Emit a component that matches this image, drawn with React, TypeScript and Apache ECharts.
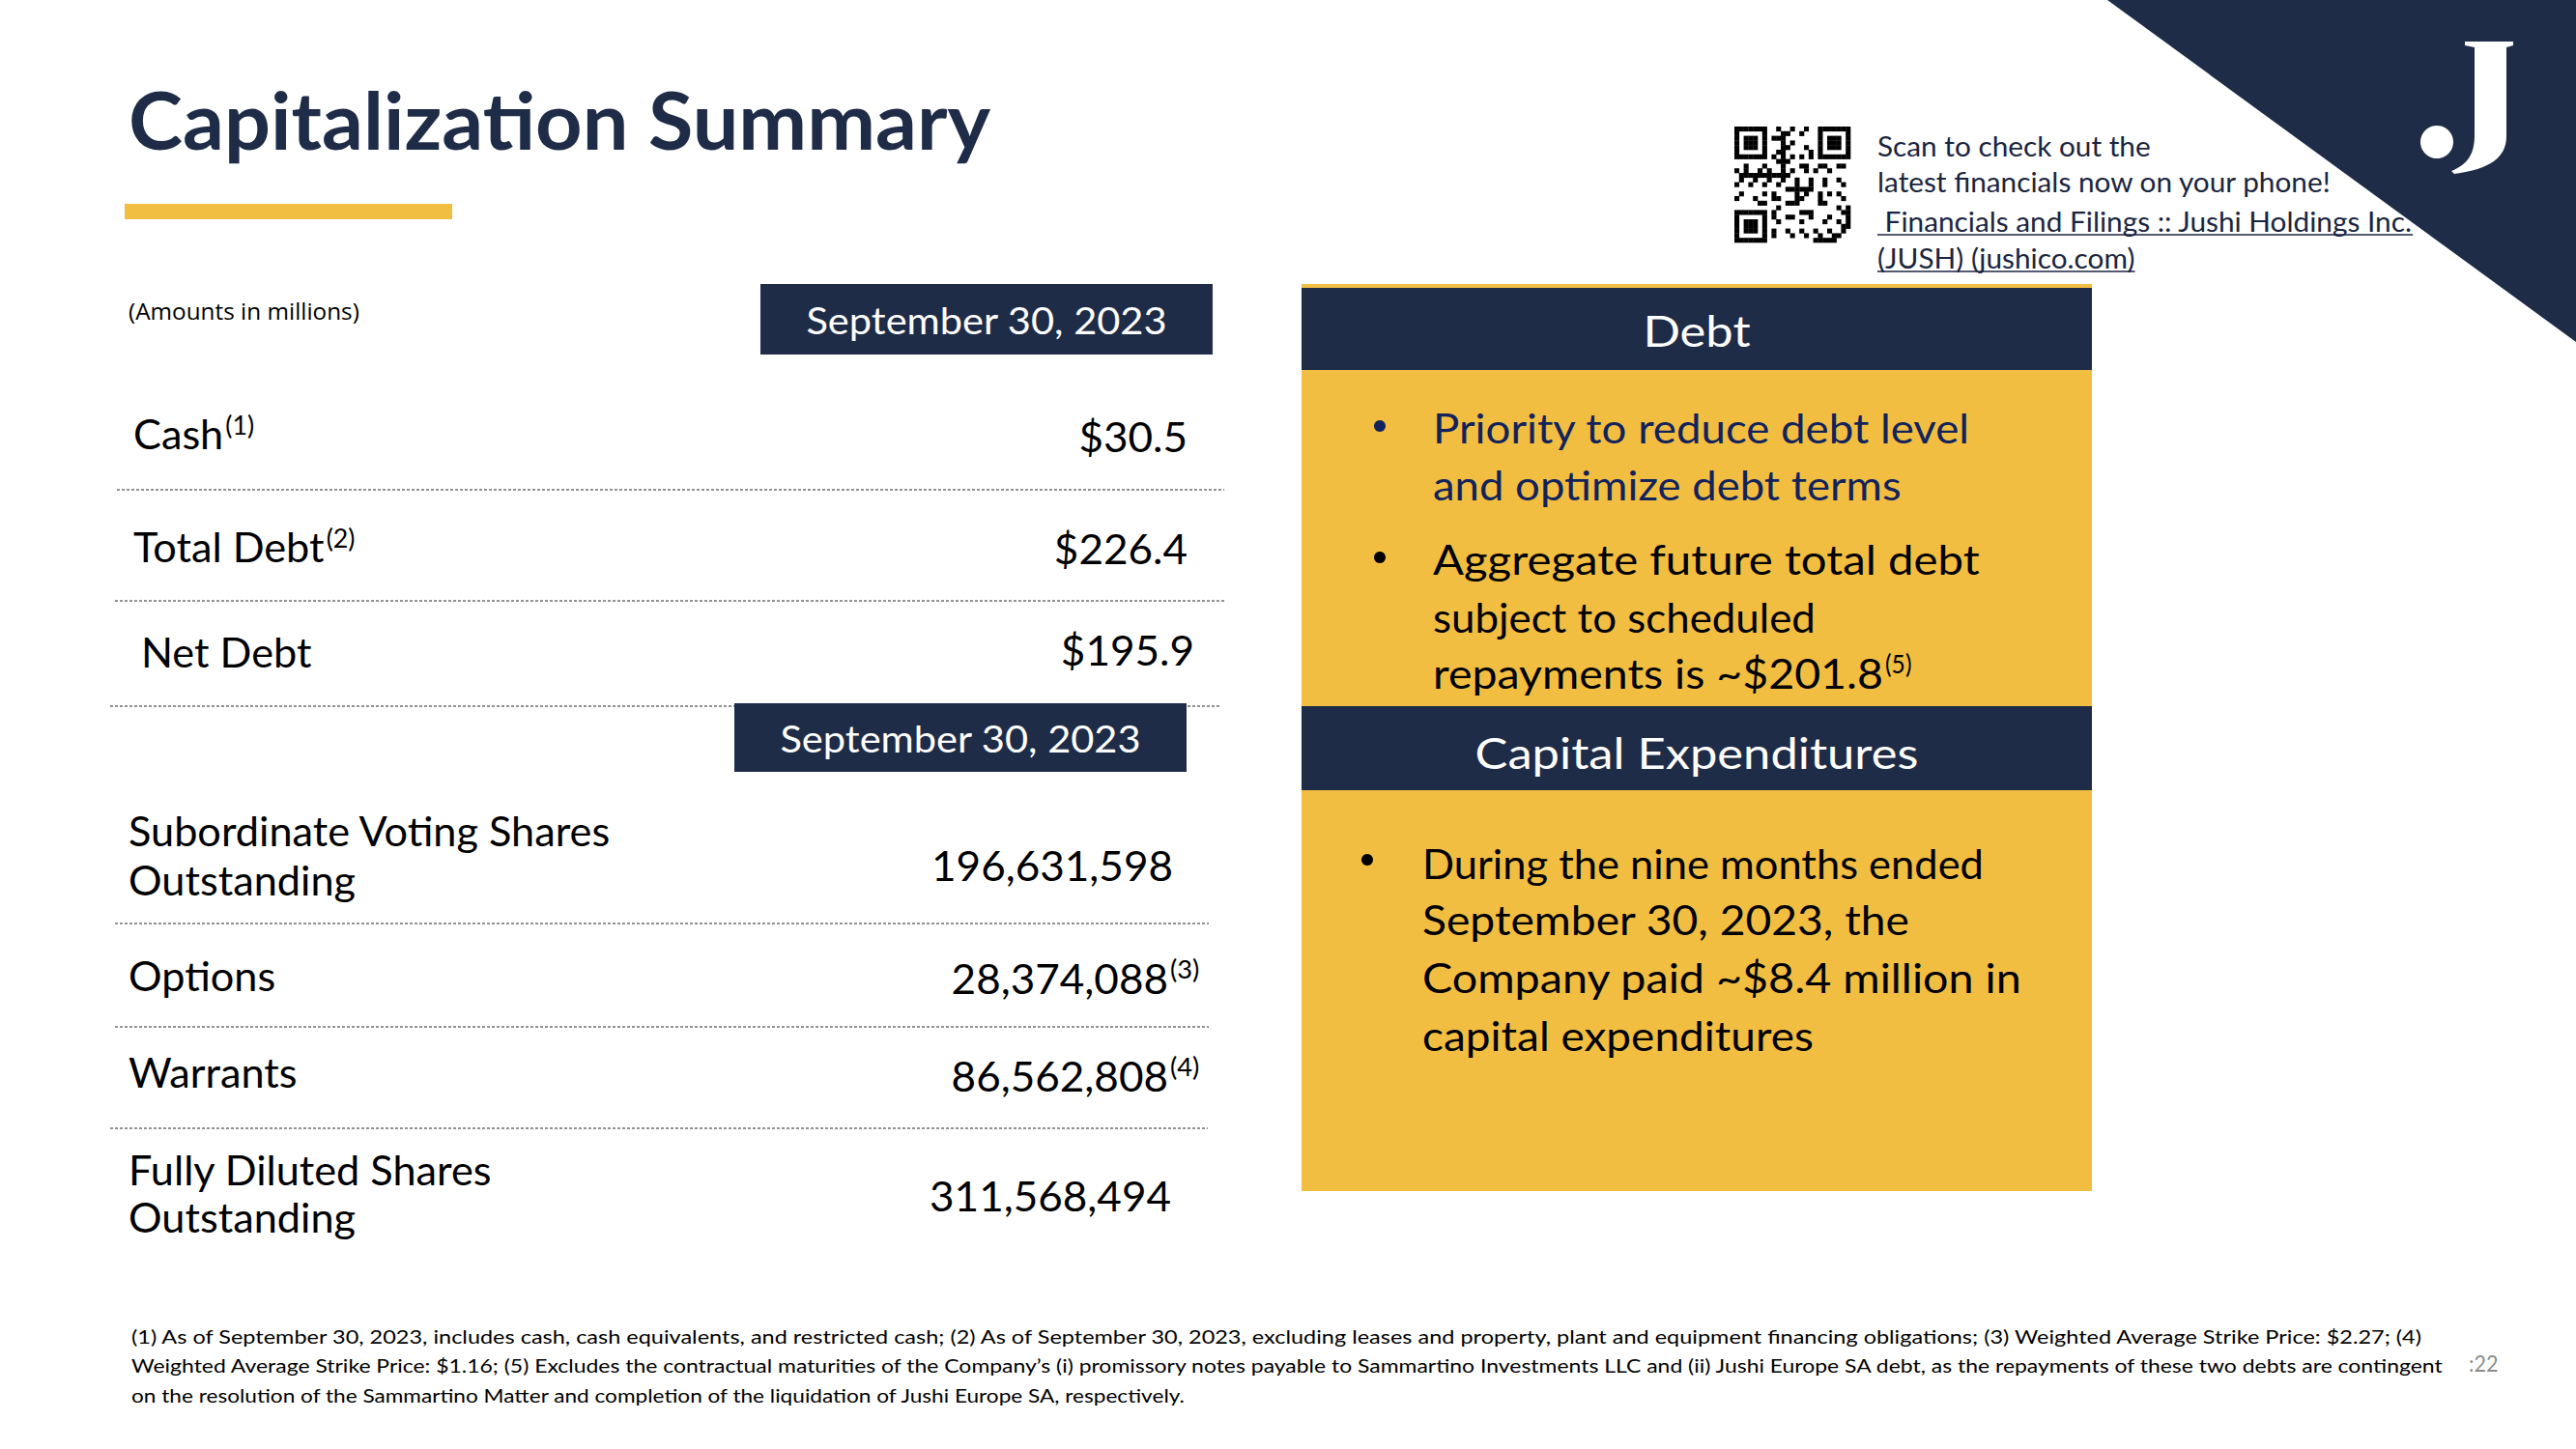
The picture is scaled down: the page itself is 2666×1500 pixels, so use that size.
import React, { useEffect, useRef } from 'react';
import * as echarts from 'echarts';

// ---------------- data ----------------
const TITLE = 'Capitalization Summary';
const UNITS_NOTE = '(Amounts in millions)';
const PERIOD = 'September 30, 2023';

const debtLabels = ['Cash', 'Total Debt', 'Net Debt'];
const debtNotes = ['(1)', '(2)', ''];
const debtValues = [30.5, 226.4, 195.9];

const shareLabels = [
  ['Subordinate Voting Shares', 'Outstanding'],
  ['Options'],
  ['Warrants'],
  ['Fully Diluted Shares', 'Outstanding'],
];
const shareNotes = ['', '(3)', '(4)', ''];
const shareValues = [196631598, 28374088, 86562808, 311568494];

const debtPanelTitle = 'Debt';
const debtBullets = [
  ['Priority to reduce debt level', 'and optimize debt terms'],
  ['Aggregate future total debt', 'subject to scheduled', 'repayments is ~$201.8'],
];
const debtBulletNotes = ['', '(5)'];
const capexPanelTitle = 'Capital Expenditures';
const capexBullets = [
  ['During the nine months ended', 'September 30, 2023, the', 'Company paid ~$8.4 million in', 'capital expenditures'],
];

const qrLines = ['Scan to check out the', 'latest financials now on your phone!'];
const linkLines = [' Financials and Filings :: Jushi Holdings Inc.', '(JUSH) (jushico.com)'];

const footnotes = [
  '(1) As of September 30, 2023, includes cash, cash equivalents, and restricted cash; (2) As of September 30, 2023, excluding leases and property, plant and equipment financing obligations; (3) Weighted Average Strike Price: $2.27; (4)',
  'Weighted Average Strike Price: $1.16; (5) Excludes the contractual maturities of the Company\u2019s (i) promissory notes payable to Sammartino Investments LLC and (ii) Jushi Europe SA debt, as the repayments of these two debts are contingent',
  'on the resolution of the Sammartino Matter and completion of the liquidation of Jushi Europe SA, respectively.',
];
const pageNumber = ':22';

// ---------------- layout & style ----------------
const W = 2666;
const H = 1500;
const FONT = 'Lato';
const NAVY = '#1F2C47';
const GOLD = '#F2BE42';
const BLUE_TEXT = '#12235C';
const DOT = '#6f6f6f';

const debtLabelX = [138, 138, 146];
const debtLabelY = [449, 566, 675];
const debtValY = [452, 568, 673];
const debtValRight = [1229, 1229, 1236];
const debtRules = [
  [121, 1267, 507],
  [119, 1268, 622],
  [114, 1262, 731],
];

const shareLabelX = 133;
const shareLabelY = [[860, 911], [1010], [1110], [1211, 1260]];
const shareValY = [896, 1013, 1114, 1238];
const shareValRight = [1214, 1209, 1209, 1212];
const shareRules = [
  [119, 1251, 956],
  [119, 1251, 1063],
  [114, 1250, 1168],
];

// rendered widths of the panel lines and footnote lines (px)
const debtLineW = [[556, 485], [566, 396, 466]];
const capexLineW = [[581, 505, 621, 405]];
const footnoteW = [2374, 2396, 1093];

const J_PATH =
  'M14 0 L64 0 L64 4 L57 6 L57 98 C57 120 40 132 3 137 L0 134 C18 127 24 115 24 97 L24 6 L14 4 Z';

let registered = false;
function registerShapes() {
  if (registered) return;
  registered = true;
  echarts.graphic.registerShape('jlogo', echarts.graphic.extendPath(J_PATH, {}) as any);
}

let measCtx: CanvasRenderingContext2D | null = null;
function measure(text: string, size: number, weight: string = 'normal', family: string = FONT) {
  if (!measCtx) measCtx = document.createElement('canvas').getContext('2d');
  if (!measCtx) return text.length * size * 0.5;
  measCtx.font = `${weight} ${size}px "${family}"`;
  return measCtx.measureText(text).width;
}
function fit(text: string, size: number, weight: string, target: number, family: string = FONT) {
  return target / measure(text, size, weight, family);
}

function T(
  text: string,
  x: number,
  y: number,
  size: number,
  opts: { weight?: string; fill?: string; align?: string; sx?: number; family?: string } = {}
) {
  return {
    type: 'text',
    x,
    y,
    scaleX: opts.sx ?? 1,
    silent: true,
    style: {
      text,
      fontSize: size,
      fontFamily: opts.family ?? FONT,
      fontWeight: opts.weight ?? 'normal',
      fill: opts.fill ?? '#000',
      align: opts.align ?? 'left',
      verticalAlign: 'middle',
    },
  };
}

function dotted(x1: number, x2: number, y: number) {
  return {
    type: 'line',
    silent: true,
    shape: { x1, y1: y, x2, y2: y },
    style: { stroke: DOT, lineWidth: 1.6, lineDash: [3, 2] },
  };
}

function buildOption() {
  const els: any[] = [];

  // top-right triangle + logo
  els.push({ type: 'polygon', silent: true, shape: { points: [[2181, 0], [2666, 0], [2666, 354]] }, style: { fill: NAVY } });
  els.push({ type: 'jlogo', x: 2537, y: 43, silent: true, style: { fill: '#fff' } });
  els.push({ type: 'circle', silent: true, shape: { cx: 2522, cy: 147, r: 17 }, style: { fill: '#fff' } });

  // title & accent bar
  const titleSize = 82;
  els.push(T(TITLE, 133, 124, titleSize, { weight: 'bold', fill: NAVY, sx: fit(TITLE, titleSize, 'bold', 892) }));
  els.push({ type: 'rect', silent: true, shape: { x: 129, y: 211, width: 339, height: 16 }, style: { fill: GOLD } });

  // units note
  els.push(T(UNITS_NOTE, 133, 322, 24, { family: 'Open Sans', sx: fit(UNITS_NOTE, 24, 'normal', 239, 'Open Sans') }));

  // period boxes
  const boxSize = 38;
  const boxSx = fit(PERIOD, boxSize, 'normal', 374);
  els.push({ type: 'rect', silent: true, shape: { x: 787, y: 294, width: 468, height: 73 }, style: { fill: NAVY } });
  els.push(T(PERIOD, 1021, 331, boxSize, { fill: '#fff', align: 'center', sx: boxSx }));

  // table fonts
  const lblSize = 42;
  const lblSx = fit('Subordinate Voting Shares', lblSize, 'normal', 500);
  const valSize = 42;
  const valSx = fit('196,631,598', valSize, 'normal', 250);
  const supSize = 26;

  // debt rows
  debtRules.forEach(([a, b, y]) => els.push(dotted(a, b, y)));
  debtLabels.forEach((lab, i) => {
    els.push(T(lab, debtLabelX[i], debtLabelY[i], lblSize, { sx: lblSx }));
    if (debtNotes[i]) {
      const w = measure(lab, lblSize) * lblSx;
      els.push(T(debtNotes[i], debtLabelX[i] + w + 2, debtLabelY[i] - 9, supSize, { sx: lblSx }));
    }
    els.push(T('$' + debtValues[i].toFixed(1), debtValRight[i], debtValY[i], valSize, { align: 'right', sx: valSx }));
  });

  // second period box (over the last rule)
  els.push({ type: 'rect', silent: true, shape: { x: 760, y: 728, width: 468, height: 71 }, style: { fill: NAVY } });
  els.push(T(PERIOD, 994, 764, boxSize, { fill: '#fff', align: 'center', sx: boxSx }));

  // share rows
  shareRules.forEach(([a, b, y]) => els.push(dotted(a, b, y)));
  shareLabels.forEach((lines, i) => {
    lines.forEach((ln, j) => els.push(T(ln, shareLabelX, shareLabelY[i][j], lblSize, { sx: lblSx })));
    els.push(
      T(shareValues[i].toLocaleString('en-US'), shareValRight[i], shareValY[i], valSize, { align: 'right', sx: valSx })
    );
    if (shareNotes[i]) {
      els.push(T(shareNotes[i], shareValRight[i] + 2, shareValY[i] - 10, supSize, { sx: valSx }));
    }
  });

  // right panel
  const px = 1347;
  const pw = 818;
  const pcx = px + pw / 2;
  els.push({ type: 'rect', silent: true, shape: { x: px, y: 294, width: pw, height: 4 }, style: { fill: GOLD } });
  els.push({ type: 'rect', silent: true, shape: { x: px, y: 298, width: pw, height: 85 }, style: { fill: NAVY } });
  els.push({ type: 'rect', silent: true, shape: { x: px, y: 383, width: pw, height: 348 }, style: { fill: GOLD } });
  els.push({ type: 'rect', silent: true, shape: { x: px, y: 731, width: pw, height: 87 }, style: { fill: NAVY } });
  els.push({ type: 'rect', silent: true, shape: { x: px, y: 818, width: pw, height: 415 }, style: { fill: GOLD } });

  const hdrSize = 44;
  const hdrSx = fit(capexPanelTitle, hdrSize, 'normal', 459);
  els.push(T(debtPanelTitle, pcx, 342, hdrSize, { fill: '#fff', align: 'center', sx: hdrSx }));
  els.push(T(capexPanelTitle, pcx, 779, hdrSize, { fill: '#fff', align: 'center', sx: hdrSx }));

  const bodySize = 43;

  const debtLineY = [[442, 501], [578, 638, 697]];
  debtBullets.forEach((lines, i) => {
    const col = i === 0 ? BLUE_TEXT : '#000';
    els.push({ type: 'circle', silent: true, shape: { cx: 1428, cy: debtLineY[i][0] - 1, r: 6 }, style: { fill: col } });
    lines.forEach((ln, j) => {
      const sx = fit(ln, bodySize, 'normal', debtLineW[i][j]);
      els.push(T(ln, 1483, debtLineY[i][j], bodySize, { fill: col, sx }));
    });
    if (debtBulletNotes[i]) {
      const k = lines.length - 1;
      const y = debtLineY[i][k];
      els.push(T(debtBulletNotes[i], 1483 + debtLineW[i][k] + 2, y - 10, supSize, { fill: col, sx: 0.95 }));
    }
  });

  const capexLineY = [[893, 952, 1012, 1071]];
  capexBullets.forEach((lines, i) => {
    els.push({ type: 'circle', silent: true, shape: { cx: 1415, cy: capexLineY[i][0] - 3, r: 6 }, style: { fill: '#000' } });
    lines.forEach((ln, j) => {
      const sx = fit(ln, bodySize, 'normal', capexLineW[i][j]);
      els.push(T(ln, 1472, capexLineY[i][j], bodySize, { sx }));
    });
  });

  // QR code block
  const qx = 1795;
  const qy = 131;
  const qn = 25;
  const qs = 120 / qn;
  const finder = (r: number, c: number) => {
    const inF = (r0: number, c0: number) => r >= r0 && r < r0 + 7 && c >= c0 && c < c0 + 7;
    const origins = [[0, 0], [0, qn - 7], [qn - 7, 0]];
    for (const [r0, c0] of origins) {
      if (inF(r0, c0)) {
        const rr = r - r0;
        const cc = c - c0;
        const ring = rr === 0 || rr === 6 || cc === 0 || cc === 6;
        const core = rr >= 2 && rr <= 4 && cc >= 2 && cc <= 4;
        return ring || core ? 1 : 0;
      }
      if (r >= r0 - 1 && r <= r0 + 7 && c >= c0 - 1 && c <= c0 + 7) return 0;
    }
    return -1;
  };
  for (let r = 0; r < qn; r++) {
    for (let c = 0; c < qn; c++) {
      let on = finder(r, c);
      if (on < 0) on = (r * 7 + c * 13 + ((r * c) % 11)) % 3 === 0 ? 1 : 0;
      if (on) {
        els.push({
          type: 'rect',
          silent: true,
          shape: { x: qx + c * qs, y: qy + r * qs, width: qs + 0.3, height: qs + 0.3 },
          style: { fill: '#000' },
        });
      }
    }
  }
  const qrSize = 28;
  const qrSx = fit(qrLines[1], qrSize, 'normal', 471);
  const qrTxtCol = '#1B2540';
  els.push(T(qrLines[0], 1943, 151, qrSize, { fill: qrTxtCol, sx: qrSx }));
  els.push(T(qrLines[1], 1943, 188, qrSize, { fill: qrTxtCol, sx: qrSx }));
  const linkY = [229, 267];
  linkLines.forEach((ln, i) => {
    els.push(T(ln, 1943, linkY[i], qrSize, { fill: qrTxtCol, sx: qrSx }));
    const w = measure(ln, qrSize) * qrSx;
    els.push({
      type: 'line',
      silent: true,
      shape: { x1: 1943, y1: linkY[i] + 14, x2: 1943 + w, y2: linkY[i] + 14 },
      style: { stroke: qrTxtCol, lineWidth: 1.6 },
    });
  });

  // footnotes
  const fnSize = 19.5;
  const fnY = [1384, 1414, 1444];
  footnotes.forEach((ln, i) => els.push(T(ln, 136, fnY[i], fnSize, { sx: fit(ln, fnSize, 'normal', footnoteW[i]) })));
  els.push(T(pageNumber, 2555, 1411, 24, { fill: '#8c8c8c', sx: 0.9 }));

  return {
    animation: false,
    backgroundColor: '#ffffff',
    graphic: { elements: els },
  };
}

export default function App() {
  const ref = useRef<HTMLDivElement>(null);
  useEffect(() => {
    document.body.style.margin = '0';
    registerShapes();
    const chart = echarts.init(ref.current as HTMLDivElement, null, { renderer: 'svg', width: W, height: H });
    chart.setOption(buildOption() as any);
    return () => chart.dispose();
  }, []);
  return <div ref={ref} style={{ width: W, height: H }} />;
}
